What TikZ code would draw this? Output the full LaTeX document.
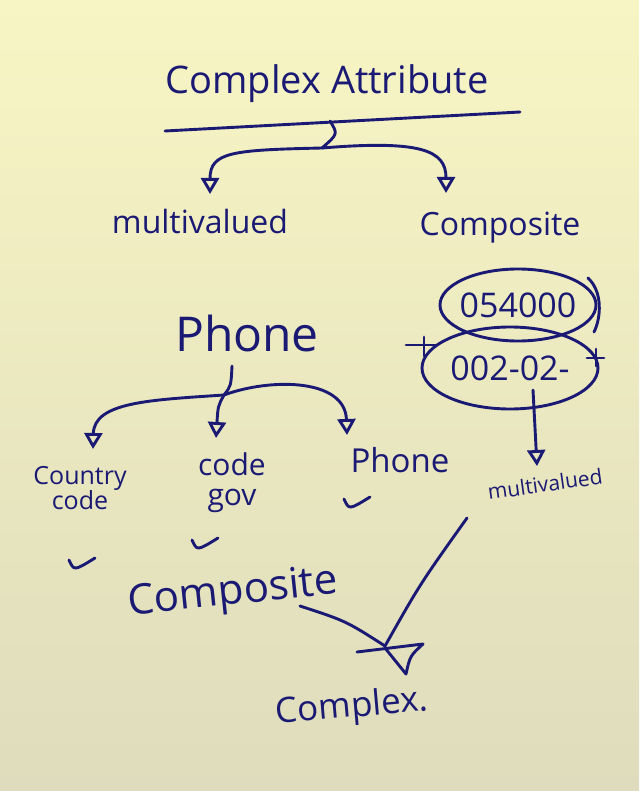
\documentclass[tikz,border=0pt]{standalone}
\usepackage{fontspec}
\setmainfont{Open Sans}
\usetikzlibrary{arrows.meta}
\definecolor{inkblue}{RGB}{26,26,116}
\definecolor{papertop}{RGB}{248,245,196}
\definecolor{paperlow}{RGB}{222,220,188}

\begin{document}
\begin{tikzpicture}[x=1pt, y=-1pt,
    >={Triangle[open, length=16pt, width=18pt]},
    pen/.style={draw=inkblue, line width=2.9pt, line cap=round, line join=round},
    hand/.style={text=inkblue, inner sep=0pt, font=\fontsize{#1}{#1}\selectfont}]

    % paper
    \fill[top color=papertop, middle color=papertop!85!paperlow, bottom color=paperlow] (0,0) rectangle (639,791);
    \useasboundingbox (0,0) rectangle (639,791);

    % complex attribute splits in two
    \node[hand=38] (title) at (327,84) {Complex Attribute};
    \coordinate (barL) at (165,131);
    \coordinate (barR) at (520,112);
    \draw[pen] (barL) -- (barR);
    \coordinate (barmid) at (330,121);
    \coordinate (fork) at (322,148);
    \draw[pen] (barmid) .. controls (338,134) .. (fork);

    \node[hand=32] (mv) at (200,222) {multivalued};
    \node[hand=32] (comp) at (500,228) {Composite};
    \coordinate (mvtip) at (210,194);
    \coordinate (comptip) at (446,193);
    \draw[pen, ->] (fork) .. controls (232,150) and (210,152) .. (mvtip);
    \draw[pen, ->] (fork) .. controls (420,140) and (446,150) .. (comptip);

    % phone as composite
    \node[hand=48] (phone) at (247,333) {Phone};
    \coordinate (phstem) at (232,366);
    \coordinate (phfork) at (224,395);
    \draw[pen] (phstem) .. controls (231,386) .. (phfork);

    \node[hand=25, align=center] (cc) at (80,488) {Country\\code};
    \node[hand=30, align=center] (cg) at (232,483) {code\\gov};
    \node[hand=33] (ph2) at (400,460) {Phone};
    \coordinate (cctip) at (93,449);
    \coordinate (cgtip) at (216,438);
    \coordinate (ph2tip) at (347,435);
    \draw[pen, ->] (phfork) .. controls (150,400) and (94,402) .. (cctip);
    \draw[pen, ->] (phfork) .. controls (218,406) .. (cgtip);
    \draw[pen, ->] (phfork) .. controls (270,378) and (345,378) .. (ph2tip);

    % ticks
    \foreach \cx/\cy in {357/502, 82/563, 205/543} {
        \draw[pen] (\cx-13,\cy-3) .. controls (\cx-8,\cy+8) .. (\cx+13,\cy-5);
    }

    % phone numbers as multivalued
    \node[hand=34] (num1) at (518,305) {054000};
    \node[hand=34] (num2) at (510,368) {002-02-};
    \draw[pen] (num1) ellipse [x radius=78pt, y radius=36pt];
    \draw[pen] (num2) ellipse [x radius=88pt, y radius=41pt];
    \draw[pen] (588,278) .. controls (603,292) and (601,318) .. (594,332);
    \draw[pen] (406,345) -- (437,345);
    \draw[pen] (424,337) -- (424,356);
    \draw[pen] (587,358) -- (604,358);
    \draw[pen] (596,349) -- (596,366);

    \node[hand=21, rotate=8] (mv2) at (545,484) {multivalued};
    \coordinate (numstem) at (533,390);
    \coordinate (mv2tip) at (537,466);
    \draw[pen, ->] (numstem) -- (mv2tip);

    % both meet in complex
    \node[hand=42, rotate=6] (comp2) at (233,594) {Composite};
    \node[hand=35, rotate=5] (cplx) at (352,708) {Complex.};
    \coordinate (comp2tail) at (300,606);
    \coordinate (mv2tail) at (467,518);
    \coordinate (meet) at (385,646);
    \draw[pen] (comp2tail) .. controls (346,621) .. (meet);
    \draw[pen] (mv2tail) .. controls (420,584) .. (meet);
    \draw[pen] (357,652) -- (423,644) .. controls (410,656) .. (406,674) -- (385,648);

\end{tikzpicture}
\end{document}
